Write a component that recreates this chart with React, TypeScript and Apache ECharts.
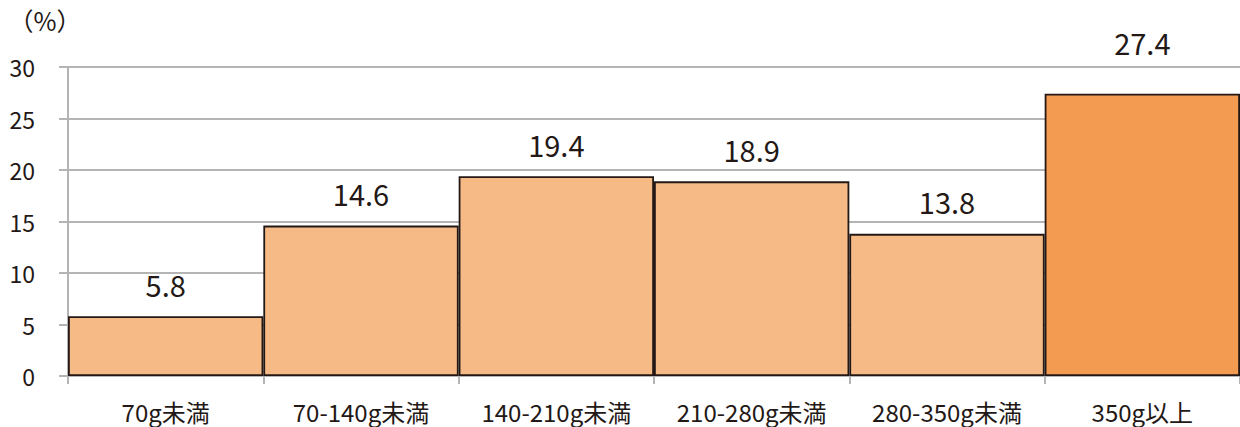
import React, { useEffect, useRef } from "react";
import * as echarts from "echarts";

const categories = ["70g未満", "70-140g未満", "140-210g未満", "210-280g未満", "280-350g未満", "350g以上"];
const values = [5.8, 14.6, 19.4, 18.9, 13.8, 27.4];
const barColors = ["#F5BA85", "#F5BA85", "#F5BA85", "#F5BA85", "#F5BA85", "#F39B51"];
const labelDistances = [18, 18, 18, 18, 18, 37];

const FONT = '"Noto Sans CJK JP", "Noto Sans", sans-serif';
const TEXT = "#231815";
const GRAY = "#B4B4B4";

export default function App() {
  const ref = useRef<HTMLDivElement>(null);

  useEffect(() => {
    if (!ref.current) return;
    const chart = echarts.init(ref.current, null, { renderer: "svg" });
    chart.setOption({
      animation: false,
      grid: { left: 68, right: 0, top: 67, bottom: 51, containLabel: false },
      graphic: [
        {
          type: "text",
          x: 45,
          y: 20,
          style: {
            text: "（%）",
            fontSize: 25,
            fontFamily: "Noto Sans CJK JP",
            fill: TEXT,
            align: "center",
            verticalAlign: "middle",
          },
        },
      ],
      xAxis: {
        type: "category",
        data: categories,
        boundaryGap: true,
        axisLine: { show: true, lineStyle: { color: GRAY, width: 2 } },
        axisTick: { show: true, length: 8, lineStyle: { color: GRAY, width: 2 } },
        axisLabel: { color: TEXT, fontSize: 24, fontFamily: FONT, margin: 23 },
      },
      yAxis: {
        type: "value",
        min: 0,
        max: 30,
        interval: 5,
        axisLine: { show: true, lineStyle: { color: GRAY, width: 2 } },
        axisTick: { show: true, length: 9, lineStyle: { color: GRAY, width: 2 } },
        splitLine: { show: true, lineStyle: { color: GRAY, width: 2 } },
        axisLabel: { color: TEXT, fontSize: 23, fontFamily: FONT, margin: 33 },
      },
      series: [
        {
          type: "bar",
          barCategoryGap: "0%",
          data: values.map((v, i) => ({
            value: v,
            itemStyle: { color: barColors[i] },
            label: { distance: labelDistances[i] },
          })),
          itemStyle: { borderColor: TEXT, borderWidth: 1.8 },
          label: {
            show: true,
            position: "top",
            color: TEXT,
            fontSize: 29,
            fontFamily: FONT,
            formatter: (p: any) => p.value.toFixed(1),
          },
        },
      ],
    });
    return () => chart.dispose();
  }, []);

  return <div ref={ref} style={{ width: 1240, height: 427, position: "absolute", left: 0, top: 0 }} />;
}
